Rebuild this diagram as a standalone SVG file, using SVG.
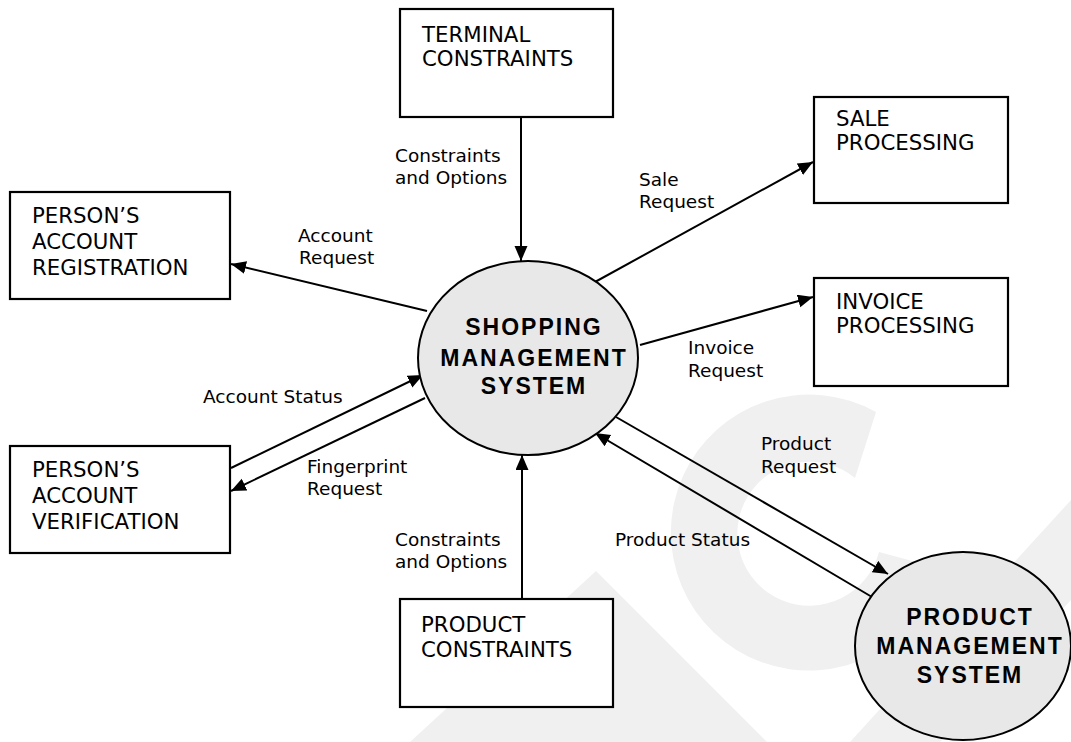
<svg xmlns="http://www.w3.org/2000/svg" width="1071" height="742" viewBox="0 0 1071 742">
<defs>
<style>
.box{fill:#ffffff;stroke:#000;stroke-width:2.2}
.ell{fill:#e8e8e8;stroke:#000;stroke-width:2}
.bt{font-family:"DejaVu Sans","Liberation Sans",sans-serif;font-size:21.3px;fill:#000}
.lb{font-family:"DejaVu Sans","Liberation Sans",sans-serif;font-size:18.5px;fill:#000}
.et{font-family:"Liberation Sans",Arial,sans-serif;font-size:23px;font-weight:bold;letter-spacing:2px;fill:#000;text-anchor:middle}
.wm{fill:#f0f0f0}
.cn{stroke:#000;stroke-width:2;fill:none;marker-end:url(#ah)}
</style>
<marker id="ah" markerUnits="userSpaceOnUse" markerWidth="16" markerHeight="14" refX="15" refY="6.5" orient="auto">
<path d="M0,0 L15,6.5 L0,13 Z" fill="#000"/>
</marker>
</defs>
<rect width="1071" height="742" fill="#ffffff"/>
<g id="watermark">
<path class="wm" d="M 876 412 A 138 138 0 1 0 942 569 L 879 552 A 72 72 0 1 1 855 478 Z"/>
<polygon class="wm" points="596,571 767,742 410,742"/>
<polygon class="wm" points="850,742 940,742 1071,600 1071,500"/>
</g>
<g id="connectors">
<line class="cn" x1="521" y1="117" x2="521" y2="261"/>
<line class="cn" x1="522" y1="599" x2="522" y2="455"/>
<line class="cn" x1="595" y1="282" x2="813" y2="162"/>
<line class="cn" x1="640" y1="345" x2="813" y2="297"/>
<line class="cn" x1="427" y1="311" x2="231" y2="264"/>
<line class="cn" x1="231" y1="468" x2="423" y2="375"/>
<line class="cn" x1="425" y1="398" x2="231" y2="491"/>
<line class="cn" x1="616" y1="417" x2="888" y2="574"/>
<line class="cn" x1="872" y1="597" x2="595" y2="433"/>
<text class="lb" x="395" y="162">Constraints</text>
<text class="lb" x="395" y="184">and Options</text>
<text class="lb" x="395" y="546">Constraints</text>
<text class="lb" x="395" y="568">and Options</text>
<text class="lb" x="639" y="186">Sale</text>
<text class="lb" x="639" y="208">Request</text>
<text class="lb" x="298" y="242">Account</text>
<text class="lb" x="299" y="264">Request</text>
<text class="lb" x="203" y="403">Account Status</text>
<text class="lb" x="307" y="473">Fingerprint</text>
<text class="lb" x="307" y="495">Request</text>
<text class="lb" x="688" y="354">Invoice</text>
<text class="lb" x="688" y="377">Request</text>
<text class="lb" x="761" y="450">Product</text>
<text class="lb" x="761" y="473">Request</text>
<text class="lb" x="615" y="546">Product Status</text>
</g>
<g id="terminal-constraints">
<rect class="box" x="400" y="9" width="213" height="108"/>
<text class="bt" x="422" y="42">TERMINAL</text>
<text class="bt" x="422" y="66">CONSTRAINTS</text>
</g>
<g id="sale-processing">
<rect class="box" x="814" y="97" width="194" height="106"/>
<text class="bt" x="836" y="126">SALE</text>
<text class="bt" x="836" y="150">PROCESSING</text>
</g>
<g id="invoice-processing">
<rect class="box" x="814" y="278" width="194" height="108"/>
<text class="bt" x="836" y="309">INVOICE</text>
<text class="bt" x="836" y="333">PROCESSING</text>
</g>
<g id="account-registration">
<rect class="box" x="10" y="192" width="220" height="107"/>
<text class="bt" x="32" y="223">PERSON’S</text>
<text class="bt" x="32" y="249">ACCOUNT</text>
<text class="bt" x="32" y="275">REGISTRATION</text>
</g>
<g id="account-verification">
<rect class="box" x="10" y="446" width="220" height="107"/>
<text class="bt" x="32" y="477">PERSON’S</text>
<text class="bt" x="32" y="503">ACCOUNT</text>
<text class="bt" x="32" y="529">VERIFICATION</text>
</g>
<g id="product-constraints">
<rect class="box" x="400" y="599" width="213" height="108"/>
<text class="bt" x="421" y="632">PRODUCT</text>
<text class="bt" x="421" y="657">CONSTRAINTS</text>
</g>
<g id="shopping-management-system">
<ellipse class="ell" cx="528" cy="358" rx="110" ry="97"/>
<text class="et" x="534" y="335">SHOPPING</text>
<text class="et" x="534" y="366">MANAGEMENT</text>
<text class="et" x="534" y="394">SYSTEM</text>
</g>
<g id="product-management-system">
<ellipse class="ell" cx="963" cy="646" rx="108" ry="94"/>
<text class="et" x="970" y="625">PRODUCT</text>
<text class="et" x="970" y="654">MANAGEMENT</text>
<text class="et" x="970" y="683">SYSTEM</text>
</g>
</svg>
